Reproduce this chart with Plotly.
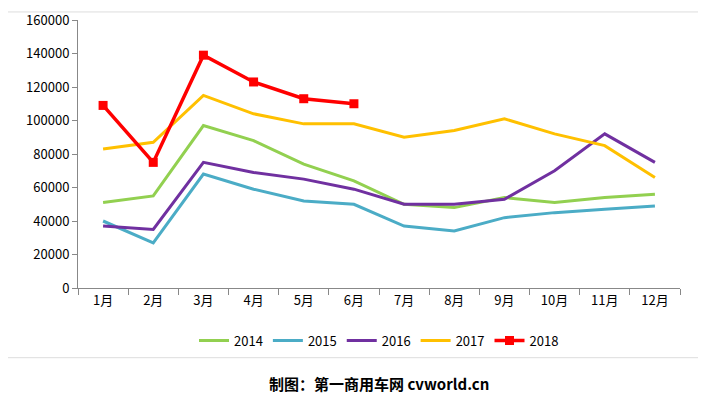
import plotly.graph_objects as go

months = ["1月", "2月", "3月", "4月", "5月", "6月", "7月", "8月", "9月", "10月", "11月", "12月"]
y2014 = [51000, 55000, 97000, 88000, 74000, 64000, 50000, 48000, 54000, 51000, 54000, 56000]
y2015 = [40000, 27000, 68000, 59000, 52000, 50000, 37000, 34000, 42000, 45000, 47000, 49000]
y2016 = [37000, 35000, 75000, 69000, 65000, 59000, 50000, 50000, 53000, 70000, 92000, 75000]
y2017 = [83000, 87000, 115000, 104000, 98000, 98000, 90000, 94000, 101000, 92000, 85000, 66000]
y2018 = [109000, 75000, 139000, 123000, 113000, 110000]

fig = go.Figure()
for name, vals, color in [("2014", y2014, "#92D050"), ("2015", y2015, "#4BACC6"),
                          ("2016", y2016, "#7030A0"), ("2017", y2017, "#FFC000")]:
    fig.add_trace(go.Scatter(x=months, y=vals, name=name, mode="lines",
                             line=dict(color=color, width=3)))
fig.add_trace(go.Scatter(x=months[:6], y=y2018, name="2018", mode="lines+markers",
                         line=dict(color="#FF0000", width=3.5),
                         marker=dict(symbol="square", size=9, color="#FF0000")))

fig.update_layout(
    width=706, height=406,
    margin=dict(l=70, r=34, t=12, b=126, autoexpand=False),
    plot_bgcolor="white", paper_bgcolor="white",
    font=dict(family="Noto Sans CJK SC", size=13, color="black"),
    legend=dict(orientation="h", x=0.5, xanchor="center", y=-0.14, yanchor="top",
                font=dict(size=13)),
    xaxis=dict(showline=True, linecolor="#888", ticks="outside", tickcolor="#888",
               tickson="boundaries", ticklen=6, range=[-0.5, 11.5], showgrid=False,
               automargin=False),
    yaxis=dict(range=[0, 160000], dtick=20000, showline=True, linecolor="#888",
               ticks="outside", tickcolor="#888", showgrid=False, tickformat="d",
               automargin=False),
    annotations=[dict(text="<b>制图：第一商用车网 cvworld.cn</b>", xref="paper", yref="paper",
                      x=0.5, y=-0.31, yanchor="top", showarrow=False, font=dict(size=15))],
    shapes=[dict(type="rect", xref="paper", yref="paper", x0=-0.12, x1=1.05, y0=-0.26, y1=1.03,
                 line=dict(color="#ddd", width=1))],
)
fig.write_html("out.html")
